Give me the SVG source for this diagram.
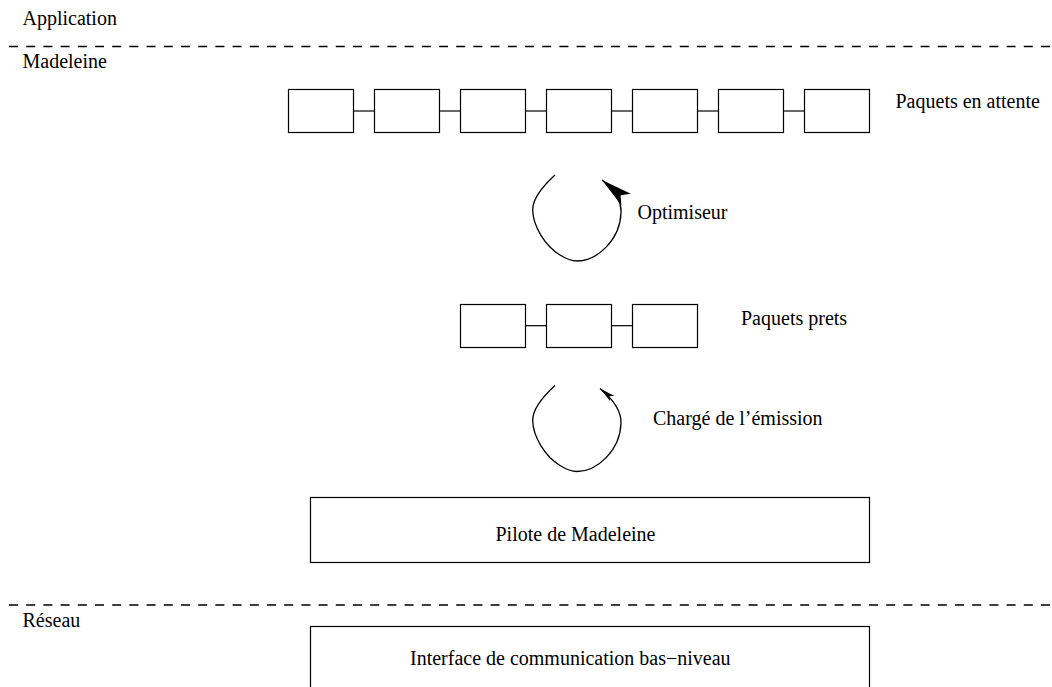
<svg xmlns="http://www.w3.org/2000/svg" width="1052" height="687" viewBox="0 0 1052 687">
<style>
text{font-family:"Liberation Serif","Times New Roman",serif;font-size:20px;fill:#000}
.box{fill:#fff;stroke:#000;stroke-width:1.2}
.link{stroke:#000;stroke-width:1.2;fill:none}
.loop{stroke:#000;stroke-width:1.3;fill:none}
.sep{stroke:#000;stroke-width:1.3;stroke-dasharray:9 8.2;fill:none}
</style>
<defs>
<marker id="arrowBig" markerUnits="userSpaceOnUse" markerWidth="40" markerHeight="20" viewBox="-32 -10 40 20" refX="0" refY="0" orient="auto">
<path d="M0,0 L-31,-7.5 L-24,0 L-31,7.5 Z" fill="#000"/>
</marker>
<marker id="arrowSmall" markerUnits="userSpaceOnUse" markerWidth="24" markerHeight="12" viewBox="-18 -6 24 12" refX="0" refY="0" orient="auto">
<path d="M0,0 L-16,-3.3 L-12,0 L-16,3.3 Z" fill="#000"/>
</marker>
</defs>
<rect width="1052" height="687" fill="#fff"/>

<g id="layers">
<line class="sep" x1="9" y1="46.5" x2="1052" y2="46.5"/>
<line class="sep" x1="9" y1="605" x2="1052" y2="605"/>
<text x="22.5" y="25">Application</text>
<text x="22.5" y="68">Madeleine</text>
<text x="22.5" y="626.5">Réseau</text>
</g>

<g id="connectors">
<line class="link" x1="353.5" y1="111" x2="374.5" y2="111"/>
<line class="link" x1="439.5" y1="111" x2="460.5" y2="111"/>
<line class="link" x1="525.5" y1="111" x2="546.5" y2="111"/>
<line class="link" x1="611.5" y1="111" x2="632.5" y2="111"/>
<line class="link" x1="697.5" y1="111" x2="718.5" y2="111"/>
<line class="link" x1="783.5" y1="111" x2="804.5" y2="111"/>
<line class="link" x1="525.5" y1="325.7" x2="546.5" y2="325.7"/>
<line class="link" x1="611.5" y1="325.7" x2="632.5" y2="325.7"/>
<path id="loop-optimiseur" class="loop" marker-end="url(#arrowBig)" d="M555,175 C543,186 532.5,198 532.7,210 C533,226 545,246 560,255 C568,260 572,261 577,261 C597,261 620,240 621,213 C621.5,203 618,193 602,180"/>
<path id="loop-emission" class="loop" marker-end="url(#arrowSmall)" d="M555,385.5 C543,396.5 532.5,408.5 532.7,420.5 C533,436.5 545,456.5 560,465.5 C568,470.5 572,471.5 577,471.5 C597,471.5 620,450.5 621,423.5 C621.5,412 614,400 600,388.5"/>
</g>

<g id="attente-1"><rect class="box" x="288.5" y="89.5" width="65" height="43"/></g>
<g id="attente-2"><rect class="box" x="374.5" y="89.5" width="65" height="43"/></g>
<g id="attente-3"><rect class="box" x="460.5" y="89.5" width="65" height="43"/></g>
<g id="attente-4"><rect class="box" x="546.5" y="89.5" width="65" height="43"/></g>
<g id="attente-5"><rect class="box" x="632.5" y="89.5" width="65" height="43"/></g>
<g id="attente-6"><rect class="box" x="718.5" y="89.5" width="65" height="43"/></g>
<g id="attente-7"><rect class="box" x="804.5" y="89.5" width="65" height="43"/></g>
<g id="label-attente"><text x="895.5" y="107.5">Paquets en attente</text></g>

<g id="label-optimiseur"><text x="637.5" y="219">Optimiseur</text></g>

<g id="prets-1"><rect class="box" x="460.5" y="304.5" width="65" height="43"/></g>
<g id="prets-2"><rect class="box" x="546.5" y="304.5" width="65" height="43"/></g>
<g id="prets-3"><rect class="box" x="632.5" y="304.5" width="65" height="43"/></g>
<g id="label-prets"><text x="741" y="324.5">Paquets prets</text></g>

<g id="label-emission"><text x="653" y="425">Chargé de l’émission</text></g>

<g id="pilote">
<rect class="box" x="310.5" y="497.5" width="559" height="65"/>
<text x="495.5" y="541">Pilote de Madeleine</text>
</g>

<g id="interface">
<rect class="box" x="310.5" y="626.5" width="559" height="70"/>
<text x="410" y="665">Interface de communication bas−niveau</text>
</g>
</svg>
